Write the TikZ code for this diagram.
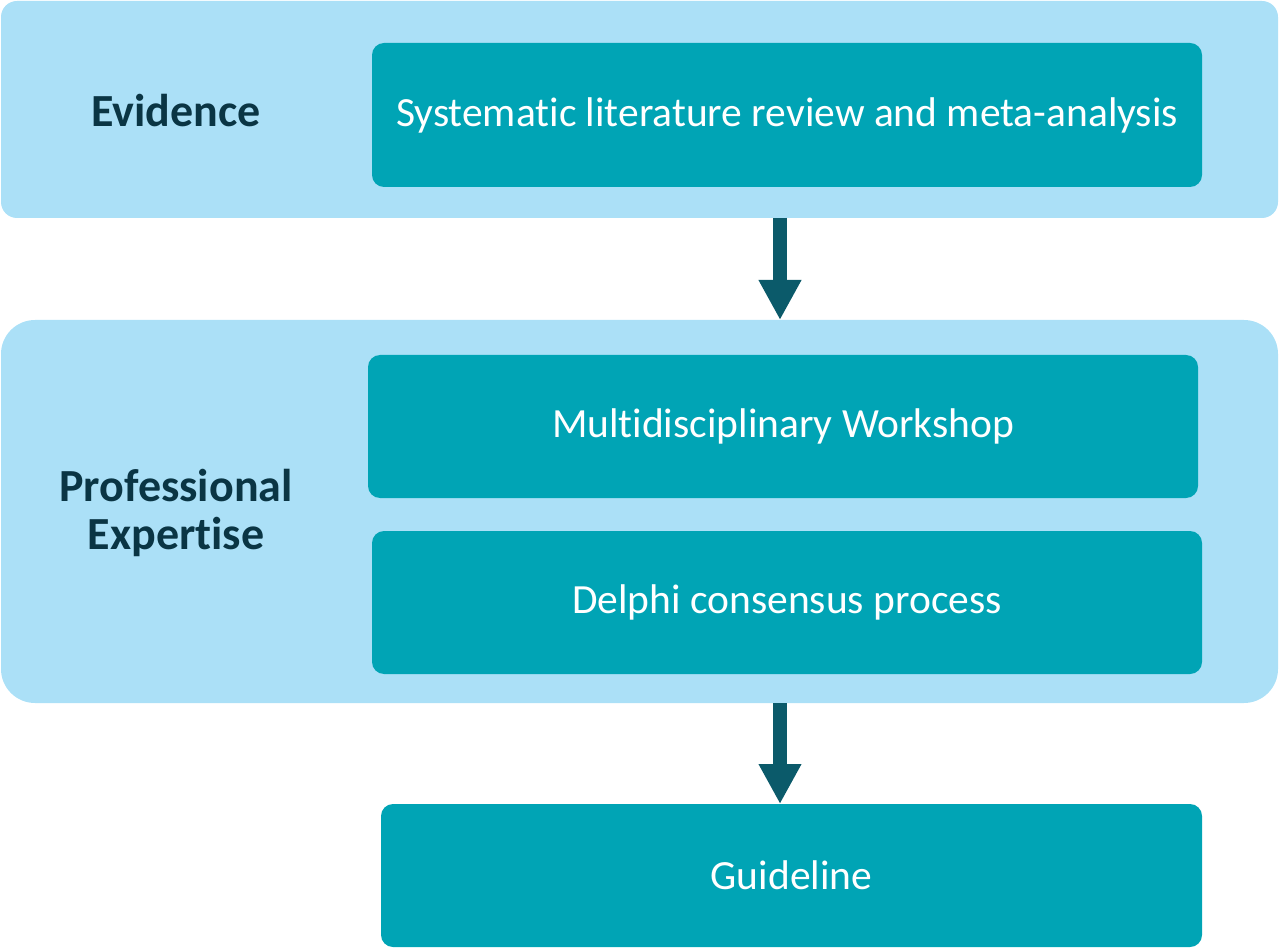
\documentclass[tikz,border=0pt]{standalone}
\usepackage{fontspec}
\setmainfont{Carlito}[Ligatures=NoCommon]
\usetikzlibrary{arrows.meta, positioning}
\definecolor{panelcolor}{RGB}{171, 224, 247}
\definecolor{boxcolor}{RGB}{0, 164, 181}
\definecolor{arrowcolor}{RGB}{11, 90, 106}
\definecolor{labelcolor}{RGB}{10, 53, 68}
\tikzset{
panel/.style={
  fill=panelcolor,
  inner sep=0pt,
  outer sep=0pt,
  minimum width=1277pt
},
stepbox/.style={
  fill=boxcolor,
  rounded corners=12pt,
  inner sep=0pt,
  outer sep=0pt,
  minimum width=830pt,
  minimum height=143pt,
  align=center,
  text=white,
  font=\fontsize{41.5}{48}\selectfont
},
panellabel/.style={
  align=center,
  text=labelcolor,
  font=\bfseries\fontsize{46}{48}\selectfont
},
bigarrow/.style={
  -{Triangle[length=40pt,width=40pt]},
  line width=14pt,
  draw=arrowcolor
}
}
\begin{document}
\begin{tikzpicture}[x=1pt, y=-1pt]
  \useasboundingbox (0,0) rectangle (1280,949);

  % Panels
  \node[panel, minimum height=217pt, rounded corners=16pt] (evidpanel) at (639.5,109.5) {};
  \node[panel, minimum height=383pt, rounded corners=34pt] (profpanel) at (639.5,511.5) {};

  % Panel labels
  \node[panellabel] (evidlabel) at (176,111) {Evidence};
  \node[panellabel] (proflabel) at (176,513) {Professional\\Expertise};

  % Steps
  \node[stepbox, minimum height=144pt] (review) at (787,115) {Systematic literature review and meta-analysis};
  \node[stepbox] (workshop) at (783,426.5) {Multidisciplinary Workshop};
  \node[stepbox] (delphi) at (787,602.5) {Delphi consensus process};
  \node[stepbox, minimum width=821pt] (guideline) at (791.5,875.5) {Guideline};

  % Arrows
  \coordinate (arrowx) at (780,0);
  \draw[bigarrow] (evidpanel.south -| arrowx) -- (profpanel.north -| arrowx);
  \draw[bigarrow] (profpanel.south -| arrowx) -- (guideline.north -| arrowx);
\end{tikzpicture}
\end{document}
